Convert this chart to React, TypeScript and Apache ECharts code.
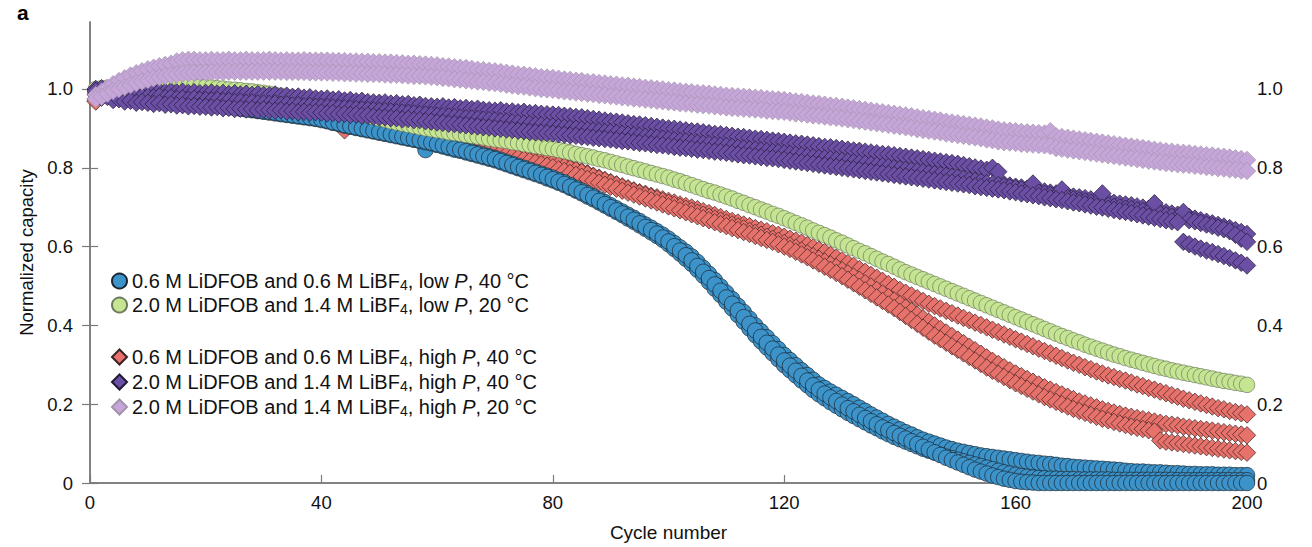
import React, { useEffect, useRef } from "react";
import * as echarts from "echarts";

// Normalized capacity (x1000) per cycle 1..200, one array per cell
const blueA = [
  990, 990, 989, 988, 988, 987, 986, 985, 984, 983,
  981, 980, 978, 977, 975, 973, 971, 969, 967, 965,
  963, 961, 959, 957, 955, 953, 951, 949, 947, 945,
  943, 941, 939, 937, 935, 933, 931, 929, 927, 925,
  922, 918, 915, 911, 908, 905, 902, 899, 896, 893,
  890, 887, 884, 881, 878, 874, 870, 845, 866, 862,
  859, 856, 852, 849, 845, 841, 837, 833, 829, 825,
  820, 815, 810, 805, 800, 795, 790, 785, 780, 775,
  769, 763, 756, 749, 742, 735, 728, 720, 713, 705,
  697, 689, 681, 673, 665, 656, 648, 639, 630, 620,
  609, 598, 587, 575, 561, 546, 531, 515, 499, 483,
  467, 450, 434, 417, 400, 385, 370, 355, 340, 325,
  312, 299, 286, 274, 262, 250, 241, 232, 224, 216,
  208, 200, 191, 183, 174, 166, 158, 150, 143, 136,
  129, 123, 116, 110, 105, 100, 95, 90, 86, 82,
  79, 76, 73, 70, 68, 66, 64, 62, 60, 58,
  56, 54, 52, 51, 49, 48, 46, 44, 43, 41,
  40, 39, 38, 37, 36, 35, 34, 33, 31, 30,
  29, 29, 28, 27, 27, 26, 25, 25, 24, 23,
  23, 22, 22, 22, 21, 21, 21, 20, 20, 20,
];
const blueB = [
  987, 987, 986, 985, 985, 984, 983, 982, 981, 980,
  978, 977, 975, 974, 972, 970, 968, 966, 964, 962,
  960, 958, 956, 954, 952, 950, 948, 946, 944, 942,
  940, 938, 936, 934, 932, 930, 928, 926, 924, 921,
  918, 914, 911, 907, 904, 901, 898, 895, 892, 889,
  886, 883, 880, 877, 874, 871, 868, 865, 862, 858,
  854, 850, 846, 843, 839, 835, 831, 827, 823, 819,
  814, 809, 804, 799, 794, 789, 784, 779, 773, 768,
  762, 756, 749, 742, 735, 727, 720, 712, 704, 696,
  688, 680, 671, 663, 654, 645, 636, 627, 617, 606,
  594, 582, 569, 556, 541, 526, 510, 493, 477, 460,
  443, 426, 409, 392, 375, 359, 344, 329, 314, 299,
  286, 273, 260, 248, 236, 225, 215, 205, 196, 187,
  178, 170, 162, 154, 146, 139, 131, 124, 117, 111,
  105, 99, 93, 87, 82, 77, 72, 67, 63, 59,
  55, 51, 47, 43, 39, 35, 31, 27, 24, 21,
  18, 16, 14, 13, 12, 11, 11, 10, 10, 10,
  9, 9, 9, 9, 9, 9, 8, 8, 8, 8,
  8, 8, 8, 8, 8, 8, 8, 7, 7, 7,
  7, 7, 7, 7, 7, 7, 7, 7, 7, 7,
];
const blueC = [
  989, 989, 988, 987, 986, 986, 985, 984, 983, 982,
  980, 979, 977, 975, 974, 972, 970, 968, 966, 964,
  962, 960, 958, 956, 954, 952, 950, 948, 946, 944,
  942, 940, 938, 936, 934, 932, 930, 928, 926, 923,
  920, 916, 913, 909, 906, 903, 900, 897, 894, 891,
  888, 885, 882, 879, 876, 873, 870, 867, 864, 860,
  857, 853, 849, 846, 842, 838, 834, 830, 826, 822,
  817, 812, 807, 802, 797, 792, 787, 782, 777, 771,
  765, 759, 752, 745, 738, 731, 724, 716, 708, 700,
  692, 684, 676, 668, 659, 650, 642, 633, 623, 613,
  601, 590, 578, 565, 551, 536, 520, 504, 488, 471,
  455, 438, 421, 404, 387, 371, 356, 341, 326, 311,
  298, 285, 272, 260, 248, 237, 227, 217, 208, 199,
  190, 182, 173, 165, 157, 149, 141, 134, 127, 120,
  113, 106, 99, 92, 85, 78, 71, 64, 58, 52,
  46, 40, 34, 29, 24, 19, 15, 11, 8, 5,
  3, 2, 1, 0, 0, 0, 0, 0, 0, 0,
  0, 0, 0, 0, 0, 0, 0, 0, 0, 0,
  0, 0, 0, 0, 0, 0, 0, 0, 0, 0,
  0, 0, 0, 0, 0, 0, 0, 0, 0, 0,
];
const greenA = [
  1000, 1002, 1003, 1005, 1006, 1007, 1008, 1009, 1010, 1010,
  1010, 1010, 1010, 1010, 1010, 1009, 1008, 1007, 1006, 1005,
  1004, 1002, 1001, 999, 998, 997, 995, 994, 992, 990,
  988, 985, 983, 980, 978, 975, 972, 969, 966, 962,
  959, 955, 952, 948, 944, 940, 937, 933, 929, 925,
  922, 918, 915, 912, 909, 906, 903, 900, 898, 895,
  893, 890, 888, 886, 883, 881, 879, 877, 874, 872,
  870, 868, 865, 863, 860, 858, 855, 853, 850, 848,
  845, 842, 839, 835, 832, 829, 826, 822, 819, 815,
  811, 807, 803, 799, 795, 791, 787, 783, 779, 775,
  770, 766, 761, 756, 751, 746, 741, 737, 732, 727,
  722, 716, 711, 705, 700, 694, 689, 683, 678, 672,
  666, 660, 654, 648, 641, 635, 629, 623, 616, 610,
  603, 596, 589, 583, 576, 569, 562, 556, 549, 542,
  535, 529, 523, 517, 511, 505, 499, 493, 487, 481,
  475, 469, 463, 457, 451, 445, 439, 433, 427, 421,
  415, 409, 403, 397, 391, 385, 379, 373, 368, 362,
  357, 351, 346, 341, 336, 331, 326, 322, 317, 313,
  309, 305, 301, 297, 293, 290, 286, 283, 280, 277,
  274, 271, 268, 265, 262, 259, 257, 254, 252, 249,
];
const redA = [
  970, 985, 993, 997, 1000, 1001, 1002, 1003, 1003, 1003,
  1003, 1003, 1003, 1003, 1002, 1002, 1001, 1000, 999, 998,
  997, 995, 994, 993, 991, 990, 988, 987, 986, 984,
  982, 979, 976, 973, 969, 966, 963, 959, 955, 950,
  947, 944, 940, 895, 934, 931, 928, 925, 921, 918,
  915, 912, 909, 906, 903, 900, 897, 894, 891, 888,
  885, 882, 879, 876, 872, 869, 866, 862, 859, 856,
  852, 848, 844, 840, 836, 832, 828, 824, 819, 815,
  810, 806, 801, 796, 791, 786, 780, 775, 769, 764,
  758, 753, 748, 743, 738, 734, 729, 725, 720, 716,
  712, 707, 703, 699, 695, 690, 685, 680, 675, 670,
  665, 661, 656, 652, 647, 643, 639, 634, 630, 625,
  620, 615, 610, 604, 598, 592, 586, 579, 572, 565,
  558, 551, 543, 536, 528, 521, 513, 505, 498, 490,
  483, 476, 469, 462, 455, 449, 443, 437, 431, 425,
  419, 413, 407, 401, 395, 389, 383, 377, 371, 365,
  359, 353, 347, 341, 335, 329, 323, 317, 311, 305,
  300, 294, 289, 283, 278, 273, 269, 264, 260, 255,
  250, 246, 241, 237, 232, 228, 223, 219, 214, 210,
  206, 202, 198, 194, 190, 187, 183, 180, 177, 174,
];
const redB = [
  975, 988, 995, 999, 1001, 1002, 1002, 1002, 1002, 1001,
  1001, 1000, 999, 998, 997, 996, 995, 994, 992, 991,
  990, 988, 987, 985, 984, 982, 980, 978, 976, 974,
  972, 969, 967, 964, 961, 958, 955, 952, 949, 946,
  943, 940, 937, 934, 931, 928, 925, 922, 919, 916,
  913, 910, 906, 903, 900, 897, 894, 891, 888, 885,
  882, 879, 875, 872, 869, 866, 862, 859, 856, 852,
  848, 845, 841, 837, 833, 829, 825, 821, 817, 812,
  808, 803, 798, 794, 789, 784, 778, 773, 768, 762,
  757, 751, 746, 741, 736, 731, 726, 721, 716, 711,
  706, 701, 696, 691, 686, 681, 676, 671, 666, 661,
  656, 651, 646, 640, 635, 630, 625, 620, 615, 609,
  603, 597, 590, 583, 576, 569, 562, 555, 548, 540,
  532, 524, 516, 507, 499, 490, 481, 472, 463, 454,
  445, 436, 427, 418, 409, 400, 391, 382, 373, 364,
  355, 346, 337, 328, 319, 310, 302, 294, 286, 278,
  271, 264, 257, 250, 243, 237, 231, 225, 219, 213,
  207, 202, 197, 192, 187, 183, 179, 175, 171, 168,
  165, 162, 159, 156, 153, 150, 148, 146, 143, 141,
  139, 137, 135, 133, 131, 129, 127, 125, 123, 121,
];
const redC = [
  968, 982, 990, 995, 998, 999, 1000, 1000, 999, 998,
  997, 996, 995, 994, 993, 991, 990, 988, 987, 985,
  983, 981, 979, 977, 975, 973, 971, 969, 967, 964,
  962, 959, 957, 954, 951, 948, 945, 942, 939, 936,
  933, 930, 927, 924, 921, 918, 915, 912, 909, 906,
  903, 900, 897, 894, 891, 888, 884, 881, 878, 875,
  872, 868, 865, 862, 858, 855, 851, 848, 844, 841,
  837, 833, 829, 825, 821, 817, 813, 809, 805, 801,
  796, 792, 787, 782, 777, 772, 767, 762, 757, 752,
  747, 742, 737, 732, 727, 722, 717, 712, 707, 702,
  697, 692, 687, 682, 677, 672, 667, 662, 657, 652,
  647, 642, 637, 632, 627, 622, 617, 612, 606, 600,
  594, 587, 580, 573, 565, 557, 549, 541, 533, 525,
  516, 507, 498, 489, 480, 471, 462, 453, 444, 434,
  424, 414, 404, 394, 384, 374, 365, 356, 347, 338,
  329, 320, 311, 302, 293, 285, 277, 269, 261, 253,
  246, 239, 232, 225, 218, 212, 206, 200, 194, 188,
  183, 178, 173, 168, 163, 159, 155, 151, 147, 143,
  140, 137, 134, 131, 108, 105, 103, 101, 99, 97,
  95, 93, 91, 89, 87, 85, 83, 81, 79, 77,
];
const purpleA = [
  1000, 1002, 998, 996, 995, 997, 994, 996, 995, 993,
  995, 994, 992, 994, 991, 993, 990, 992, 989, 990,
  991, 988, 990, 987, 989, 986, 988, 985, 987, 985,
  984, 986, 982, 983, 980, 981, 978, 979, 976, 975,
  976, 973, 974, 971, 972, 969, 970, 967, 966, 965,
  966, 963, 964, 961, 962, 959, 960, 957, 956, 955,
  956, 953, 954, 951, 952, 949, 950, 947, 946, 945,
  946, 943, 943, 941, 942, 939, 939, 937, 936, 935,
  934, 932, 931, 929, 928, 926, 924, 922, 920, 918,
  917, 915, 913, 911, 910, 908, 906, 904, 902, 900,
  899, 897, 895, 893, 892, 890, 888, 886, 885, 883,
  881, 879, 878, 876, 874, 873, 871, 869, 868, 866,
  864, 862, 861, 859, 857, 855, 853, 852, 850, 848,
  846, 844, 843, 841, 839, 837, 835, 834, 832, 830,
  828, 826, 824, 822, 820, 818, 816, 814, 812, 810,
  807, 804, 801, 798, 795, 800, 790, 758, 755, 752,
  750, 747, 745, 742, 740, 737, 735, 732, 730, 727,
  725, 723, 720, 718, 716, 714, 711, 709, 707, 705,
  702, 699, 696, 693, 690, 687, 684, 681, 678, 675,
  671, 667, 663, 659, 655, 651, 647, 642, 637, 632,
];
const purpleB = [
  995, 990, 992, 986, 984, 985, 982, 983, 980, 980,
  979, 981, 977, 978, 975, 976, 973, 975, 972, 972,
  971, 972, 969, 970, 967, 968, 965, 966, 963, 963,
  962, 963, 960, 961, 958, 959, 956, 957, 955, 955,
  954, 953, 952, 951, 950, 949, 948, 947, 946, 945,
  944, 943, 941, 940, 939, 938, 936, 935, 934, 932,
  931, 930, 929, 927, 926, 925, 924, 922, 921, 920,
  918, 917, 915, 914, 912, 911, 909, 908, 906, 905,
  903, 902, 900, 899, 897, 896, 894, 893, 891, 890,
  888, 886, 884, 883, 881, 879, 877, 876, 874, 872,
  870, 868, 867, 865, 863, 861, 860, 858, 856, 855,
  853, 851, 849, 847, 846, 844, 842, 840, 839, 837,
  835, 833, 831, 829, 827, 825, 824, 822, 820, 818,
  816, 814, 812, 810, 808, 806, 804, 802, 799, 797,
  795, 793, 791, 789, 786, 784, 782, 780, 777, 775,
  772, 769, 767, 764, 761, 758, 756, 753, 750, 748,
  745, 742, 760, 737, 734, 731, 729, 745, 723, 720,
  717, 715, 712, 709, 735, 704, 701, 699, 696, 695,
  692, 690, 688, 710, 682, 679, 676, 673, 688, 667,
  664, 660, 656, 652, 648, 644, 639, 630, 620, 612,
];
const purpleC = [
  985, 978, 980, 972, 974, 968, 970, 965, 967, 965,
  962, 964, 960, 961, 958, 959, 956, 957, 955, 955,
  953, 954, 951, 952, 949, 950, 948, 949, 946, 948,
  946, 945, 946, 943, 944, 941, 942, 940, 941, 940,
  938, 939, 936, 937, 934, 935, 932, 933, 930, 928,
  928, 926, 926, 923, 924, 921, 921, 918, 917, 915,
  914, 912, 911, 909, 908, 906, 905, 903, 902, 900,
  899, 897, 896, 894, 893, 891, 890, 889, 888, 887,
  885, 884, 882, 881, 879, 878, 876, 875, 873, 872,
  870, 868, 867, 865, 863, 862, 860, 858, 857, 855,
  853, 851, 850, 848, 846, 845, 843, 841, 840, 838,
  836, 834, 832, 831, 829, 827, 825, 824, 822, 820,
  818, 816, 814, 812, 810, 808, 806, 804, 802, 800,
  798, 796, 794, 792, 790, 788, 786, 784, 782, 780,
  778, 776, 774, 772, 770, 768, 766, 764, 762, 760,
  758, 756, 753, 751, 749, 747, 745, 743, 740, 738,
  735, 733, 730, 728, 725, 723, 720, 718, 715, 712,
  710, 707, 704, 701, 699, 696, 693, 690, 688, 685,
  682, 679, 676, 673, 670, 667, 664, 662, 612, 606,
  600, 595, 590, 586, 581, 576, 571, 565, 559, 552,
];
const lilacA = [
  985, 993, 1003, 1012, 1020, 1027, 1034, 1040, 1045, 1050,
  1054, 1058, 1061, 1064, 1070, 1073, 1074, 1074, 1073, 1073,
  1074, 1073, 1073, 1074, 1073, 1073, 1074, 1073, 1073, 1073,
  1074, 1073, 1072, 1073, 1072, 1072, 1073, 1072, 1072, 1072,
  1072, 1071, 1071, 1071, 1070, 1070, 1069, 1069, 1068, 1068,
  1067, 1067, 1066, 1065, 1064, 1064, 1063, 1062, 1061, 1060,
  1058, 1057, 1055, 1054, 1053, 1051, 1049, 1048, 1046, 1045,
  1043, 1041, 1039, 1037, 1036, 1034, 1032, 1030, 1029, 1028,
  1026, 1024, 1023, 1021, 1020, 1018, 1017, 1015, 1014, 1012,
  1011, 1009, 1008, 1006, 1005, 1003, 1002, 1000, 999, 997,
  996, 994, 993, 992, 990, 989, 988, 986, 985, 983,
  982, 981, 980, 979, 978, 977, 975, 974, 973, 972,
  970, 968, 967, 965, 963, 962, 960, 958, 957, 955,
  953, 951, 949, 947, 945, 943, 941, 939, 937, 935,
  933, 931, 928, 926, 924, 922, 920, 917, 915, 913,
  911, 909, 907, 905, 902, 900, 897, 895, 894, 893,
  891, 890, 889, 888, 887, 893, 880, 878, 876, 874,
  872, 870, 868, 866, 864, 862, 860, 858, 856, 854,
  852, 850, 848, 846, 844, 842, 841, 839, 838, 837,
  835, 834, 832, 831, 829, 828, 826, 824, 822, 820,
];
const lilacB = [
  975, 980, 988, 995, 1000, 1005, 1010, 1015, 1019, 1023,
  1027, 1030, 1033, 1035, 1037, 1039, 1040, 1041, 1042, 1042,
  1043, 1043, 1043, 1044, 1044, 1044, 1044, 1044, 1044, 1044,
  1044, 1044, 1044, 1043, 1043, 1043, 1043, 1042, 1042, 1042,
  1042, 1041, 1041, 1040, 1040, 1039, 1039, 1038, 1038, 1038,
  1037, 1036, 1036, 1035, 1034, 1033, 1033, 1032, 1031, 1030,
  1028, 1027, 1025, 1024, 1022, 1021, 1019, 1018, 1016, 1015,
  1013, 1011, 1009, 1007, 1006, 1004, 1002, 1000, 999, 998,
  996, 994, 993, 991, 990, 988, 987, 985, 984, 982,
  981, 979, 978, 976, 975, 973, 972, 970, 969, 967,
  966, 964, 963, 962, 960, 959, 958, 956, 955, 953,
  952, 951, 950, 949, 948, 947, 945, 944, 943, 942,
  940, 938, 937, 935, 933, 932, 930, 928, 927, 925,
  923, 921, 919, 917, 915, 913, 911, 909, 907, 905,
  903, 901, 898, 896, 894, 892, 890, 887, 885, 883,
  881, 879, 877, 875, 872, 870, 867, 865, 864, 863,
  861, 860, 859, 858, 857, 855, 850, 848, 846, 844,
  842, 840, 838, 836, 834, 832, 830, 828, 826, 824,
  822, 820, 818, 816, 814, 812, 811, 809, 808, 807,
  805, 804, 802, 801, 799, 798, 796, 795, 793, 792,
];

const seriesNames = [
  "0.6 M LiDFOB and 0.6 M LiBF4, low P, 40 °C",
  "2.0 M LiDFOB and 1.4 M LiBF4, low P, 20 °C",
  "0.6 M LiDFOB and 0.6 M LiBF4, high P, 40 °C",
  "2.0 M LiDFOB and 1.4 M LiBF4, high P, 40 °C",
  "2.0 M LiDFOB and 1.4 M LiBF4, high P, 20 °C",
];
const xTicks = [0, 40, 80, 120, 160, 200];
const yTicks = [0, 0.2, 0.4, 0.6, 0.8, 1.0];

const FONT = "'Liberation Sans', Arial, Helvetica, sans-serif";

const toPoints = (cells: number[][]) =>
  cells.flatMap((cell) => cell.map((v, i) => [i + 1, v / 1000]));

const conditions = [
  { name: seriesNames[0], cells: [blueA, blueB, blueC], symbol: "circle", size: 15.5, color: "#3b93ca", border: "#1b2630" },
  { name: seriesNames[1], cells: [greenA], symbol: "circle", size: 15.5, color: "#c6e593", border: "#6b7a5e" },
  { name: seriesNames[2], cells: [redA, redB, redC], symbol: "diamond", size: 17.5, color: "#e7716b", border: "#3a2222" },
  { name: seriesNames[3], cells: [purpleA, purpleB, purpleC], symbol: "diamond", size: 17.5, color: "#6b4fa5", border: "#221a33" },
  { name: seriesNames[4], cells: [lilacA, lilacB], symbol: "diamond", size: 17.5, color: "#c6a6d8", border: "#a293ad" },
];
// drawing order (bottom to top)
const drawOrder = [2, 0, 1, 3, 4];

const richName = (name: string) =>
  name.replace("LiBF4", "LiBF{sub|4}").replace(" P,", " {it|P},");

export default function App() {
  const ref = useRef<HTMLDivElement>(null);
  useEffect(() => {
    if (!ref.current) return;
    const chart = echarts.init(ref.current, null, { renderer: "svg" });
    const axisLine = { show: true, lineStyle: { color: "#7a7a7a", width: 1.5 } };
    const legendText = {
      fontSize: 20,
      lineHeight: 22,
      color: "#111",
      fontFamily: FONT,
      rich: {
        sub: { fontSize: 14, fontFamily: FONT, color: "#111", verticalAlign: "bottom", lineHeight: 14, padding: [8, 0, 0, 0] },
        it: { fontSize: 20, fontFamily: FONT, color: "#111", fontStyle: "italic", lineHeight: 22 },
      },
    };
    const legendIcon = (i: number) => ({ name: conditions[i].name, icon: conditions[i].symbol });
    const tickFmt = (v: number) => (v === 0 ? "0" : v.toFixed(1));
    chart.setOption({
      animation: false,
      backgroundColor: "#fff",
      textStyle: { fontFamily: FONT },
      grid: { left: 90, right: 65, top: 22, bottom: 62, containLabel: false },
      graphic: [
        { type: "text", left: 17, top: 2, style: { text: "a", fontSize: 21, fontWeight: "bold", fill: "#000", fontFamily: FONT } },
      ],
      legend: [
        {
          orient: "vertical", left: 106, top: 265, itemWidth: 15, itemHeight: 15, itemGap: 2,
          data: [legendIcon(0), legendIcon(1)], textStyle: legendText, formatter: richName,
          selectedMode: false,
        },
        {
          orient: "vertical", left: 106, top: 341, itemWidth: 15, itemHeight: 15, itemGap: 3,
          data: [legendIcon(2), legendIcon(3), legendIcon(4)], textStyle: legendText, formatter: richName,
          selectedMode: false,
        },
      ],
      xAxis: [
        {
          type: "value", min: xTicks[0], max: xTicks[xTicks.length - 1], interval: xTicks[1] - xTicks[0],
          position: "bottom",
          name: "Cycle number", nameLocation: "middle", nameGap: 40,
          nameTextStyle: { fontSize: 19, color: "#111", fontFamily: FONT },
          axisLine, axisTick: { show: true, inside: true, length: 8, lineStyle: { color: "#7a7a7a", width: 1.2 } },
          axisLabel: { fontSize: 18.5, color: "#111", margin: 10, fontFamily: FONT },
          splitLine: { show: false },
        },
        {
          type: "value", min: xTicks[0], max: xTicks[xTicks.length - 1], position: "top",
          axisLine, axisTick: { show: false }, axisLabel: { show: false }, splitLine: { show: false },
        },
      ],
      yAxis: [
        {
          type: "value", min: 0, max: 1.17, interval: yTicks[1] - yTicks[0], position: "left",
          name: "Normalized capacity", nameLocation: "middle", nameGap: 53, nameRotate: 90,
          nameTextStyle: { fontSize: 18.5, color: "#111", fontFamily: FONT },
          axisLine, axisTick: { show: true, inside: true, length: 8, lineStyle: { color: "#7a7a7a", width: 1.2 } },
          axisLabel: { fontSize: 18.5, color: "#111", margin: 17, showMaxLabel: false, fontFamily: FONT, formatter: tickFmt },
          splitLine: { show: false },
        },
        {
          type: "value", min: 0, max: 1.17, interval: yTicks[1] - yTicks[0], position: "right",
          axisLine, axisTick: { show: true, inside: true, length: 8, lineStyle: { color: "#7a7a7a", width: 1.2 } },
          axisLabel: { fontSize: 18.5, color: "#111", margin: 10, showMaxLabel: false, fontFamily: FONT, formatter: tickFmt },
          splitLine: { show: false },
        },
      ],
      series: drawOrder.map((i) => {
        const c = conditions[i];
        return {
          type: "scatter",
          name: c.name,
          data: toPoints(c.cells),
          symbol: c.symbol,
          symbolSize: c.size,
          clip: false,
          silent: true,
          itemStyle: { color: c.color, borderColor: c.border, borderWidth: 0.7, opacity: 1 },
          emphasis: { disabled: true },
        };
      }),
    });
    return () => chart.dispose();
  }, []);
  return (
    <div
      ref={ref}
      style={{ position: "fixed", left: 0, top: 0, width: 1312, height: 547, background: "#fff" }}
    />
  );
}
